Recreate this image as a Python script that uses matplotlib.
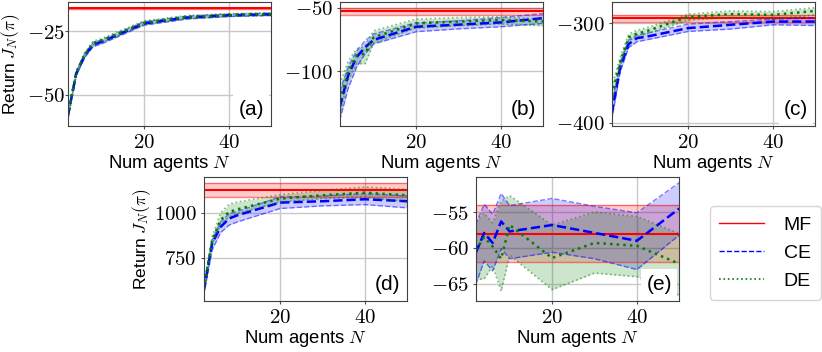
import numpy as np
import matplotlib
matplotlib.use('Agg')
import matplotlib.pyplot as plt
from matplotlib.lines import Line2D
from matplotlib.ticker import FuncFormatter

plt.rcParams['font.family'] = ['Liberation Sans', 'DejaVu Sans']
plt.rcParams['mathtext.fontset'] = 'cm'
plt.rcParams['font.size'] = 13.3

# number of agents
N = np.array([2, 4, 6, 8, 10, 20, 30, 40, 50])
x_ticks = [20, 40]

# mean field return (mean, half width of the band)
mf_mean = {'a': -16.0, 'b': -53.0, 'c': -295.0, 'd': 1128.0, 'e': -58.0}
mf_half = {'a': 0.2, 'b': 3.0, 'c': 3.5, 'd': 40.0, 'e': 4.0}

# CE results
ce_mean = {
    'a': [-58.6, -41.7, -34.6, -30.3, -29.2, -22.0, -19.7, -18.8, -18.4],
    'b': [-128.0, -103.0, -88.8, -81.1, -75.3, -65.0, -63.4, -61.6, -58.2],
    'c': [-391.0, -344.3, -321.0, -315.0, -313.8, -305.0, -301.7, -298.4, -298.4],
    'd': [565, 831, 922, 968.6, 987, 1057, 1064.5, 1075.6, 1064.5],
    'e': [-60.7, -57.9, -59.3, -56.3, -57.7, -56.8, -57.9, -59.0, -54.5],
}
ce_hi = {
    'a': [-57.2, -40.9, -33.8, -29.5, -28.4, -21.3, -19.1, -18.3, -17.9],
    'b': [-116.0, -96.6, -84.0, -75.9, -70.7, -61.9, -60.4, -57.8, -54.7],
    'c': [-383.0, -339.0, -317.0, -312.0, -310.4, -301.0, -298.4, -296.0, -294.7],
    'd': [590, 850, 950, 996, 1009, 1088, 1093.8, 1106.5, 1093.8],
    'e': [-56.7, -53.9, -55.3, -52.4, -54.1, -53.1, -54.2, -55.1, -50.9],
}
ce_lo = {
    'a': [-60.0, -42.5, -35.4, -31.1, -30.0, -22.7, -20.3, -19.3, -18.9],
    'b': [-138.5, -113.4, -96.6, -86.2, -78.5, -68.9, -66.7, -65.0, -62.4],
    'c': [-397.8, -349.2, -324.5, -318.6, -317.0, -308.4, -306.0, -301.7, -302.4],
    'd': [541, 794, 890, 932, 950, 1024, 1038.6, 1045.8, 1027.6],
    'e': [-65.1, -61.8, -63.2, -60.1, -61.5, -60.6, -61.5, -63.0, -58.2],
}

# DE results
de_mean = {
    'a': [-58.3, -41.4, -34.2, -29.7, -28.7, -21.7, -19.5, -18.7, -18.3],
    'b': [-122.5, -100.0, -87.5, -86.0, -73.3, -62.4, -60.9, -59.8, -60.9],
    'c': [-372.0, -339.3, -314.3, -310.4, -308.4, -293.7, -291.0, -291.7, -287.7],
    'd': [575, 849, 960, 1005.5, 1020, 1079, 1097.6, 1112, 1097.6],
    'e': [-60.3, -58.5, -59.8, -61.5, -56.8, -61.4, -59.3, -59.7, -62.2],
}
de_hi = {
    'a': [-57.0, -40.6, -33.4, -28.9, -27.9, -21.0, -18.9, -18.2, -17.8],
    'b': [-110.0, -92.0, -82.3, -80.0, -68.1, -59.0, -57.8, -57.2, -59.0],
    'c': [-364.0, -334.3, -311.0, -307.0, -305.0, -291.0, -287.7, -288.4, -284.4],
    'd': [600, 867.6, 1000, 1048, 1060.7, 1101, 1125, 1143.4, 1130.7],
    'e': [-56.2, -55.2, -56.5, -53.5, -52.7, -56.8, -55.0, -55.6, -58.0],
}
de_lo = {
    'a': [-59.6, -42.2, -35.0, -30.5, -29.5, -22.4, -20.1, -19.2, -18.8],
    'b': [-134.0, -107.0, -94.0, -94.0, -77.7, -66.0, -64.2, -62.8, -64.2],
    'c': [-380.0, -344.0, -317.6, -313.8, -311.0, -297.0, -294.4, -296.0, -291.7],
    'd': [550, 825, 935, 978, 996, 1060.7, 1079, 1088, 1060.7],
    'e': [-64.4, -64.3, -62.5, -66.0, -61.0, -65.8, -63.5, -64.0, -66.6],
}

y_ticks = {
    'a': [-50, -25],
    'b': [-100, -50],
    'c': [-400, -300],
    'd': [750, 1000],
    'e': [-65, -60, -55],
}

# axes positions in pixels: left, top (822 x 352 figure)
W, H = 822.0, 352.0
ax_w, ax_h = 203.6, 124.0
pos = {
    'a': (67.7, 2.0),
    'b': (339.7, 2.0),
    'c': (611.7, 2.0),
    'd': (203.7, 177.0),
    'e': (475.7, 177.0),
}
ylabel_x = {'a': -0.226, 'd': -0.25}

fig = plt.figure(figsize=(W / 100, H / 100), dpi=100)
fmt = FuncFormatter(lambda v, p: '$%g$' % v)

for key in ['a', 'b', 'c', 'd', 'e']:
    left, top = pos[key]
    ax = fig.add_axes([left / W, 1 - (top + ax_h) / H, ax_w / W, ax_h / H])

    # mean field band
    m = mf_mean[key]
    h = mf_half[key]
    ones = np.ones(len(N))
    ax.fill_between(N, (m - h) * ones, (m + h) * ones, color='red', alpha=0.2, lw=0)
    ax.plot(N, (m - h) * ones, '-', color='red', alpha=0.5, lw=1)
    ax.plot(N, (m + h) * ones, '-', color='red', alpha=0.5, lw=1)
    ax.plot(N, m * ones, '-', color='red', lw=1.5)

    # CE
    ax.fill_between(N, ce_lo[key], ce_hi[key], color='blue', alpha=0.2, lw=0)
    ax.plot(N, ce_lo[key], '--', color='blue', alpha=0.5, lw=1)
    ax.plot(N, ce_hi[key], '--', color='blue', alpha=0.5, lw=1)
    ax.plot(N, ce_mean[key], '--', color='blue', lw=1.8)

    # DE
    ax.fill_between(N, de_lo[key], de_hi[key], color='green', alpha=0.2, lw=0)
    ax.plot(N, de_lo[key], ':', color='green', alpha=0.5, lw=1.2)
    ax.plot(N, de_hi[key], ':', color='green', alpha=0.5, lw=1.2)
    ax.plot(N, de_mean[key], ':', color='green', lw=1.8)

    ax.set_xlim(N[0], N[-1])
    ax.set_xticks(x_ticks)
    ax.set_yticks(y_ticks[key])
    ax.xaxis.set_major_formatter(fmt)
    ax.yaxis.set_major_formatter(fmt)
    ax.tick_params(labelsize=15, length=2.5, pad=2.5, color='0.3')
    if key == 'a':
        ax.tick_params(axis='y', length=2, pad=0)
    ax.grid(True, color='#c8c8c8', lw=1)
    ax.set_axisbelow(True)
    for s in ax.spines.values():
        s.set_color('0.25')
    ax.set_xlabel('Num agents $N$', fontsize=13.3, labelpad=1)
    if key in ylabel_x:
        ax.set_ylabel('Return $J_N(\\pi)$', fontsize=12.5)
        ax.yaxis.set_label_coords(ylabel_x[key], 0.5)

    ax.text(0.965, 0.06, '(%s)' % key, transform=ax.transAxes, ha='right', va='bottom',
            fontsize=15, zorder=10,
            bbox=dict(boxstyle='square,pad=0.25', fc='white', ec='none'))

handles = [Line2D([], [], color='red', lw=1),
           Line2D([], [], color='blue', ls='--', lw=1),
           Line2D([], [], color='green', ls=':', lw=1.2)]
fig.legend(handles, ['MF', 'CE', 'DE'], loc='center',
           bbox_to_anchor=(765.5 / W, 1 - 253 / H), fontsize=14,
           handlelength=2.3, handletextpad=1.0, borderpad=0.5, labelspacing=0.55)

fig.savefig('out.png', dpi=100)
